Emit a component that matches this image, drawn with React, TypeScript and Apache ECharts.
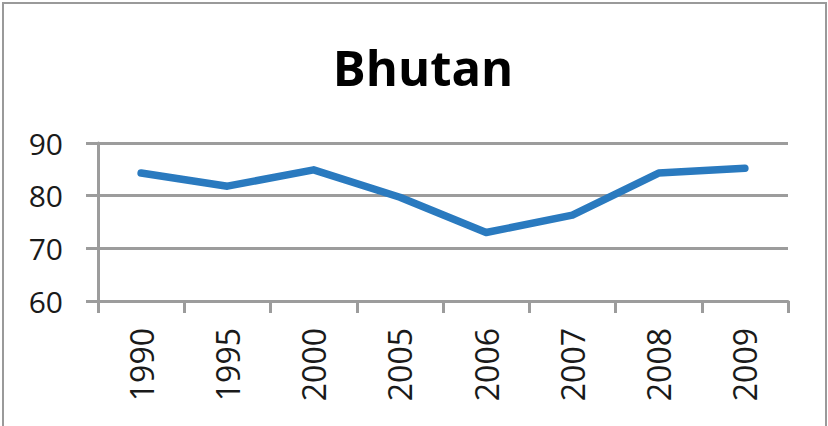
import React, { useEffect, useRef } from "react";
import * as echarts from "echarts";

const title = "Bhutan";
const years = ["1990", "1995", "2000", "2005", "2006", "2007", "2008", "2009"];
const values = [84.3, 81.8, 84.9, 79.7, 73.0, 76.3, 84.3, 85.2];
const yMin = 60;
const yMax = 90;
const yStep = 10;

export default function App() {
  const ref = useRef<HTMLDivElement>(null);
  useEffect(() => {
    if (!ref.current) return;
    const chart = echarts.init(ref.current, null, { renderer: "svg" });
    const gray = "#9c9c9c";
    chart.setOption({
      animation: false,
      backgroundColor: "#ffffff",
      title: {
        text: title,
        left: 418,
        textAlign: "center",
        top: 37,
        textStyle: {
          fontFamily: "Open Sans",
          fontWeight: "bold",
          fontSize: 49,
          color: "#000000",
        },
      },
      graphic: [
        {
          type: "rect",
          shape: { x: 3, y: 3, width: 823, height: 440 },
          style: { fill: "none", stroke: "#9a9a9a", lineWidth: 2 },
          silent: true,
        },
      ],
      grid: { left: 98, right: 40, top: 143, bottom: 125 },
      xAxis: {
        type: "category",
        data: years,
        boundaryGap: true,
        axisLine: { show: true, lineStyle: { color: gray, width: 3 } },
        axisTick: { show: true, length: 12, lineStyle: { color: gray, width: 3 } },
        axisLabel: {
          rotate: 90,
          margin: 27,
          fontFamily: "Open Sans",
          fontSize: 32,
          color: "#1a1a1a",
        },
        splitLine: { show: false },
      },
      yAxis: {
        type: "value",
        min: yMin,
        max: yMax,
        interval: yStep,
        axisLine: { show: true, lineStyle: { color: gray, width: 3 } },
        axisTick: { show: true, length: 12, lineStyle: { color: gray, width: 3 } },
        axisLabel: {
          margin: 35,
          fontFamily: "Open Sans",
          fontSize: 30,
          color: "#1a1a1a",
        },
        splitLine: { show: true, lineStyle: { color: gray, width: 3 } },
      },
      series: [
        {
          type: "line",
          data: values,
          symbol: "none",
          lineStyle: { color: "#2a7abf", width: 7.5, cap: "round", join: "round" },
        },
      ],
    });
    return () => chart.dispose();
  }, []);
  return (
    <div
      ref={ref}
      style={{ position: "fixed", left: 0, top: 0, width: 828, height: 426 }}
    />
  );
}
